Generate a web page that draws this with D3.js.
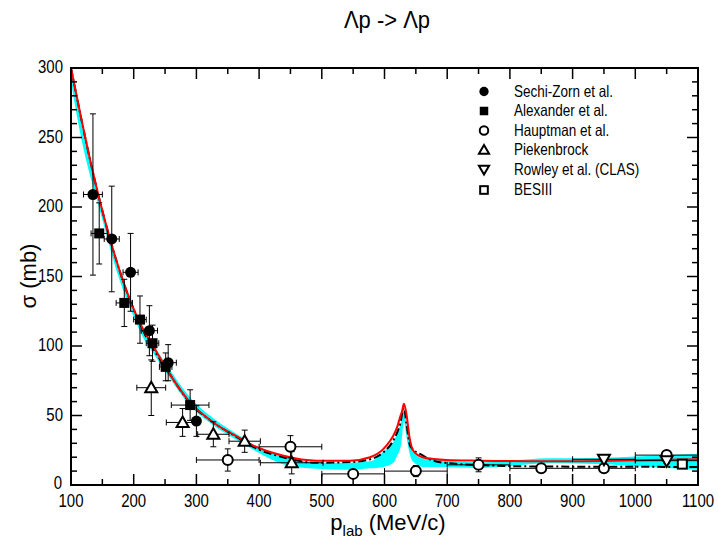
<!DOCTYPE html>
<html>
<head>
<meta charset="utf-8">
<script src="https://cdn.jsdelivr.net/npm/d3@7"></script>
<style>
  body { margin: 0; background: #fff; }
  text { font-family: "Liberation Sans", Arial, sans-serif; fill: #000; }
</style>
</head>
<body>
<div id="chart"></div>
<script>
//================================
// data
var xTicks = [100, 200, 300, 400, 500, 600, 700, 800, 900, 1000, 1100];
var yTicks = [0, 50, 100, 150, 200, 250, 300];

// theory: cyan band (lower / upper edge)
var bandP  = [100, 110, 125, 137, 150, 172, 200, 215, 231, 253, 290, 327, 370, 400, 438, 492, 545, 577, 598, 614, 619, 627, 631, 634, 638, 645, 662, 700, 750, 864, 950, 1000, 1100];
var bandLo = [290, 264, 232, 212, 191, 155, 121, 106, 95, 80, 57, 43, 31, 23, 15, 11.7, 11, 12, 13, 16, 20, 30, 46, 38, 27, 17, 13, 13, 12.3, 15.6, 15, 13.5, 11];
var bandHi = [300, 276, 243, 219, 197, 160, 127, 112, 101, 86, 63, 48, 35, 26.5, 21, 16, 16, 17, 24, 31, 36, 46, 54, 47, 37, 24, 19, 17.5, 16.3, 19.2, 19.5, 20.5, 22.5];

// theory: red line
var redP = [100, 137, 172, 215, 231, 253, 290, 327, 370, 386, 439, 492, 545, 577, 598, 609, 614, 620, 625, 628, 631, 635, 640, 646, 662, 699, 752, 864, 1000, 1100];
var redS = [300, 221, 162, 112, 100, 83, 59.4, 45, 33.5, 29.4, 21, 17.5, 17.5, 20, 25.8, 31.8, 35.4, 41.4, 49, 53, 58.5, 51, 34, 24.6, 19.8, 18, 17.5, 17, 17.8, 18.5];

// theory: black dash-dot line
var dashP = [100, 137, 172, 215, 253, 290, 327, 370, 386, 438, 492, 545, 577, 598, 614, 625, 631, 635, 641, 662, 672, 699, 752, 850, 1100];
var dashS = [300, 221, 162, 111, 83, 59, 45, 33, 28.5, 20, 16, 16.5, 18.5, 23.5, 32, 44, 55.5, 44, 28, 21, 18.5, 15.8, 14.4, 13.3, 13];

// experiments: momentum, cross section, error in p, error in sigma
var sechiP  = [135, 165, 195, 225, 255, 300];
var sechiS  = [209, 177, 153, 111, 88, 46];
var sechiEp = [15, 12, 12, 13, 13, 0];
var sechiEs = [58, 38, 28, 18, 13, 11];

var alexP  = [145, 185, 210, 230, 251, 290];
var alexS  = [181, 131, 119, 102, 85, 57.5];
var alexEp = [13, 13, 10, 10, 10, 30];
var alexEs = [22, 17, 17, 13, 10, 11];

var hauptP  = [350, 450, 550, 650, 750, 850, 950, 1050];
var hauptS  = [18, 27.5, 8, 10, 14.5, 12, 12, 21.5];
var hauptEp = [50, 50, 50, 50, 50, 50, 50, 50];
var hauptEs = [8, 8, 3, 4, 5, 3, 3, 3];

var piekP  = [228, 278, 327, 377, 452];
var piekS  = [70, 45, 36.5, 31.5, 16];
var piekEp = [23, 26, 25, 25, 50];
var piekEs = [20, 10, 9, 8, 8];

var rowP  = [950, 1050];
var rowS  = [18.5, 17.5];
var rowEp = [50, 50];
var rowEs = [2, 2];

var besP  = [1075];
var besS  = [15];
var besEp = [0];
var besEs = [2];

var legendNames = ["Sechi-Zorn et al.", "Alexander et al.", "Hauptman et al.",
                   "Piekenbrock", "Rowley et al. (CLAS)", "BESIII"];

//================================
var W = 718, H = 541;
var svg = d3.select('#chart').append('svg').attr('width', W).attr('height', H);

var x = d3.scaleLinear().domain([100, 1100]).range([71, 698]);
var y = d3.scaleLinear().domain([0, 300]).range([485, 68]);

var plot = svg.append('g');
plot.append('clipPath').attr('id', 'clip')
  .append('rect').attr('x', 71).attr('y', 68).attr('width', 627).attr('height', 417);

function zip(a, b) { return a.map(function(v, i) { return [v, b[i]]; }); }

// band
var area = d3.area()
  .x(function(d) { return x(d[0]); })
  .y0(function(d) { return y(d[1]); })
  .y1(function(d) { return y(d[2]); })
  .curve(d3.curveMonotoneX);
plot.append('path')
  .datum(bandP.map(function(p, i) { return [p, bandLo[i], bandHi[i]]; }))
  .attr('d', area).attr('fill', '#00ffff').attr('clip-path', 'url(#clip)');

var line = d3.line()
  .x(function(d) { return x(d[0]); })
  .y(function(d) { return y(d[1]); })
  .curve(d3.curveMonotoneX);

plot.append('path').datum(zip(dashP, dashS)).attr('d', line)
  .attr('fill', 'none').attr('stroke', '#000').attr('stroke-width', 2)
  .attr('stroke-dasharray', '8,3,2,3').attr('clip-path', 'url(#clip)');

plot.append('path').datum(zip(redP, redS)).attr('d', line)
  .attr('fill', 'none').attr('stroke', '#ff0000').attr('stroke-width', 2)
  .attr('clip-path', 'url(#clip)');

//================================
// markers
var tri = 'M0,-6L6,4.5L-6,4.5Z';
var triDown = 'M0,6L6,-4.5L-6,-4.5Z';

function drawMarker(g, type, scale) {
  var s = scale || 1;
  if (type === 'fcircle') {
    g.append('circle').attr('r', 5.5 * s).attr('fill', '#000');
  } else if (type === 'fsquare') {
    g.append('rect').attr('x', -5 * s).attr('y', -5 * s).attr('width', 10 * s).attr('height', 10 * s).attr('fill', '#000');
  } else if (type === 'ocircle') {
    g.append('circle').attr('r', 5 * s).attr('fill', '#fff').attr('stroke', '#000').attr('stroke-width', 2);
  } else if (type === 'otri') {
    g.append('path').attr('d', tri).attr('transform', 'scale(' + s + ')')
      .attr('fill', '#fff').attr('stroke', '#000').attr('stroke-width', 2 / s);
  } else if (type === 'otridown') {
    g.append('path').attr('d', triDown).attr('transform', 'scale(' + s + ')')
      .attr('fill', '#fff').attr('stroke', '#000').attr('stroke-width', 2 / s);
  } else if (type === 'osquare') {
    g.append('rect').attr('x', -4.5 * s).attr('y', -4.5 * s).attr('width', 9 * s).attr('height', 9 * s)
      .attr('fill', '#fff').attr('stroke', '#000').attr('stroke-width', 2);
  }
}

function drawSeries(P, S, Ep, Es, type) {
  var eg = plot.append('g').attr('stroke', '#000').attr('stroke-width', 1);
  P.forEach(function(p, i) {
    var cx = x(p), cy = y(S[i]);
    if (Es[i] > 0) {
      var y1 = y(S[i] + Es[i]), y2 = y(S[i] - Es[i]);
      eg.append('line').attr('x1', cx).attr('x2', cx).attr('y1', y1).attr('y2', y2);
      eg.append('line').attr('x1', cx - 3).attr('x2', cx + 3).attr('y1', y1).attr('y2', y1);
      eg.append('line').attr('x1', cx - 3).attr('x2', cx + 3).attr('y1', y2).attr('y2', y2);
    }
    if (Ep[i] > 0) {
      var x1 = x(p - Ep[i]), x2 = x(p + Ep[i]);
      eg.append('line').attr('x1', x1).attr('x2', x2).attr('y1', cy).attr('y2', cy);
      eg.append('line').attr('x1', x1).attr('x2', x1).attr('y1', cy - 3).attr('y2', cy + 3);
      eg.append('line').attr('x1', x2).attr('x2', x2).attr('y1', cy - 3).attr('y2', cy + 3);
    }
  });
  P.forEach(function(p, i) {
    var g = plot.append('g').attr('transform', 'translate(' + x(p) + ',' + y(S[i]) + ')');
    drawMarker(g, type);
  });
}

drawSeries(hauptP, hauptS, hauptEp, hauptEs, 'ocircle');
drawSeries(piekP, piekS, piekEp, piekEs, 'otri');
drawSeries(rowP, rowS, rowEp, rowEs, 'otridown');
drawSeries(besP, besS, besEp, besEs, 'osquare');
drawSeries(alexP, alexS, alexEp, alexEs, 'fsquare');
drawSeries(sechiP, sechiS, sechiEp, sechiEs, 'fcircle');

//================================
// frame and ticks
var ax = svg.append('g').attr('stroke', '#000');
ax.append('rect').attr('x', 71).attr('y', 68).attr('width', 627).attr('height', 417)
  .attr('fill', 'none').attr('stroke-width', 2);

d3.range(100, 1101, 50).forEach(function(v) {
  var len = v % 100 === 0 ? 11 : 6;
  ax.append('line').attr('x1', x(v)).attr('x2', x(v)).attr('y1', 485).attr('y2', 485 - len).attr('stroke-width', 1.5);
  ax.append('line').attr('x1', x(v)).attr('x2', x(v)).attr('y1', 68).attr('y2', 68 + len).attr('stroke-width', 1.5);
});
d3.range(0, 301, 10).forEach(function(v) {
  var len = v % 50 === 0 ? 11 : 6;
  ax.append('line').attr('x1', 71).attr('x2', 71 + len).attr('y1', y(v)).attr('y2', y(v)).attr('stroke-width', 1.5);
  ax.append('line').attr('x1', 698).attr('x2', 698 - len).attr('y1', y(v)).attr('y2', y(v)).attr('stroke-width', 1.5);
});

// stretched text, like the original output
function label(px, py, str, size, anchor, sy) {
  return svg.append('text')
    .attr('transform', 'translate(' + px + ',' + py + ') scale(1,' + (sy || 1) + ')')
    .attr('font-size', size).attr('text-anchor', anchor || 'start').text(str);
}

xTicks.forEach(function(v) { label(x(v), 507, v, 15, 'middle', 1.2); });
yTicks.forEach(function(v) { label(v === 0 ? 62 : 63, y(v) + (v === 0 ? 3.5 : 5), v, 15, 'end', 1.2); });

label(387, 28, 'Λp -> Λp', 22, 'middle', 1.1);

svg.append('text')
  .attr('transform', 'translate(36,276) rotate(-90)')
  .attr('font-size', 22).attr('text-anchor', 'middle').text('σ (mb)');

var xl = svg.append('text').attr('x', 388).attr('y', 530)
  .attr('font-size', 22).attr('text-anchor', 'middle');
xl.append('tspan').text('p');
xl.append('tspan').attr('font-size', 15).attr('dy', 6).text('lab');
xl.append('tspan').attr('dy', -6).text(' (MeV/c)');

//================================
// legend
var legTypes = ['fcircle', 'fsquare', 'ocircle', 'otri', 'otridown', 'osquare'];
var legY = [91.5, 111, 130.5, 150, 169.5, 190];
legendNames.forEach(function(name, i) {
  var g = svg.append('g').attr('transform', 'translate(484,' + legY[i] + ')');
  drawMarker(g, legTypes[i], 0.85);
  label(514, legY[i] + 5, name, 13.5, 'start', 1.25);
});
</script>
</body>
</html>
